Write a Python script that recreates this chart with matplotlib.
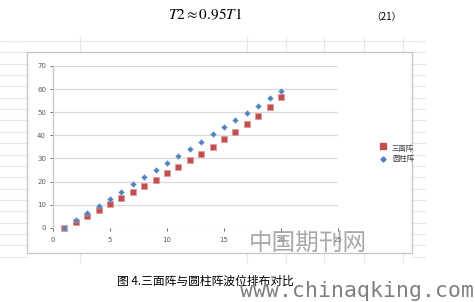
import matplotlib
matplotlib.use('Agg')
import matplotlib.pyplot as plt
from matplotlib.lines import Line2D
from matplotlib.patches import Rectangle

# data
x_vals = [1, 2, 3, 4, 5, 6, 7, 8, 9, 10, 11, 12, 13, 14, 15, 16, 17, 18, 19, 20]
sanmian = [0, 2.6, 5.1, 7.7, 10.2, 12.9, 15.5, 18.1, 20.8, 23.5, 26.3, 29.1,
           32.1, 35.1, 38.3, 41.6, 44.9, 48.3, 52.2, 56.4]
yuanzhu = [0, 3.2, 6.2, 9.4, 12.4, 15.6, 18.8, 21.9, 25.0, 28.0, 31.1, 34.2,
           37.3, 40.4, 43.5, 46.6, 49.8, 52.8, 56.0, 59.2]
labels = ['三面阵', '圆柱阵']
xticks = [0, 5, 10, 15, 20, 25]
yticks = [0, 10, 20, 30, 40, 50, 60, 70]
caption = '图 4.三面阵与圆柱阵波位排布对比'

plt.rcParams['font.family'] = ['Noto Sans CJK SC', 'DejaVu Sans']
plt.rcParams['mathtext.fontset'] = 'stix'

W, H = 475, 302
fig = plt.figure(figsize=(4.75, 3.02), dpi=100)
fig.patch.set_facecolor('white')

def fx(px):
    return px / W

def fy(py):
    return 1 - py / H

# spreadsheet grid behind the embedded chart
grid_c = '#e3e7ee'
for k in range(20):
    yy = 41 + 11.35 * k
    fig.add_artist(Line2D([fx(0), fx(27)], [fy(yy), fy(yy)], color=grid_c, lw=0.8, zorder=-3))
    fig.add_artist(Line2D([fx(412), fx(425)], [fy(yy), fy(yy)], color=grid_c, lw=0.8, zorder=-3))
fig.add_artist(Line2D([fx(3), fx(425)], [fy(41), fy(41)], color=grid_c, lw=0.8, zorder=-3))
for xx in [80, 247, 286, 324, 364, 403]:
    fig.add_artist(Line2D([fx(xx), fx(xx)], [fy(37), fy(52)], color=grid_c, lw=0.8, zorder=-3))
    fig.add_artist(Line2D([fx(xx), fx(xx)], [fy(253), fy(262)], color=grid_c, lw=0.8, zorder=-3))

# chart area border
fig.add_artist(Rectangle((fx(27), fy(253)), fx(412) - fx(27), fy(52) - fy(253),
                         fill=True, facecolor='white', edgecolor='#c4c4c4', lw=0.9,
                         zorder=-2))

ax = fig.add_axes([fx(53), fy(227.7), fx(338) - fx(53), fy(66) - fy(227.7)])
ax.set_zorder(1)
ax.patch.set_alpha(0)
ax.set_xlim(0, 25)
ax.set_ylim(0, 70)
ax.set_xticks(xticks)
ax.set_yticks(yticks)
ax.tick_params(labelsize=5, colors='#595959', length=2, width=0.6, pad=3)
ax.tick_params(axis='x', pad=5)
for t in ax.get_xticklabels() + ax.get_yticklabels():
    t.set_family('DejaVu Sans')
ax.grid(axis='y', color='#d9d9d9', lw=0.9)
ax.set_axisbelow(True)
for s in ['top', 'right', 'bottom']:
    ax.spines[s].set_visible(False)
ax.spines['left'].set_color('#c8c8c8')
ax.spines['left'].set_linewidth(1.0)

ax.plot(x_vals, sanmian, 's', color='#c0504d', mec='#e39b98', mew=0.6, ms=4.6,
        label=labels[0], clip_on=False)
ax.plot(x_vals, yuanzhu, 'D', color='#4f81bd', mec='#8fb0d8', mew=0.4, ms=3.0,
        label=labels[1], clip_on=False)

# legend
fig.add_artist(Line2D([fx(383)], [fy(146)], marker='s', color='#c0504d', ms=4.0, lw=0))
fig.add_artist(Line2D([fx(383)], [fy(158.5)], marker='D', color='#4f81bd', ms=2.6, lw=0))
fig.text(fx(392), fy(149), labels[0], fontsize=5.3, color='#404040', va='center')
fig.text(fx(392), fy(159), labels[1], fontsize=5.3, color='#404040', va='center')

# page text
fig.text(fx(205), fy(15), r'$T2\approx 0.95T1$', fontsize=11, ha='center', va='center')
fig.text(fx(386), fy(17), '（21）', fontsize=7, ha='center', va='center')
fig.text(fx(117), fy(281), caption, fontsize=8.5, ha='left', va='center', color='black')

# watermarks
fig.text(fx(308), fy(243), '中国期刊网', fontsize=17, ha='center', va='center',
         color='#9a9a9a', alpha=0.85, fontweight='light', zorder=5)
fig.text(fx(240), fy(291), 'www.chinaqking.com', fontsize=15.5, ha='left', va='center',
         color='#808080', family='DejaVu Sans Mono')

fig.savefig('out.png', dpi=100, facecolor='white')
